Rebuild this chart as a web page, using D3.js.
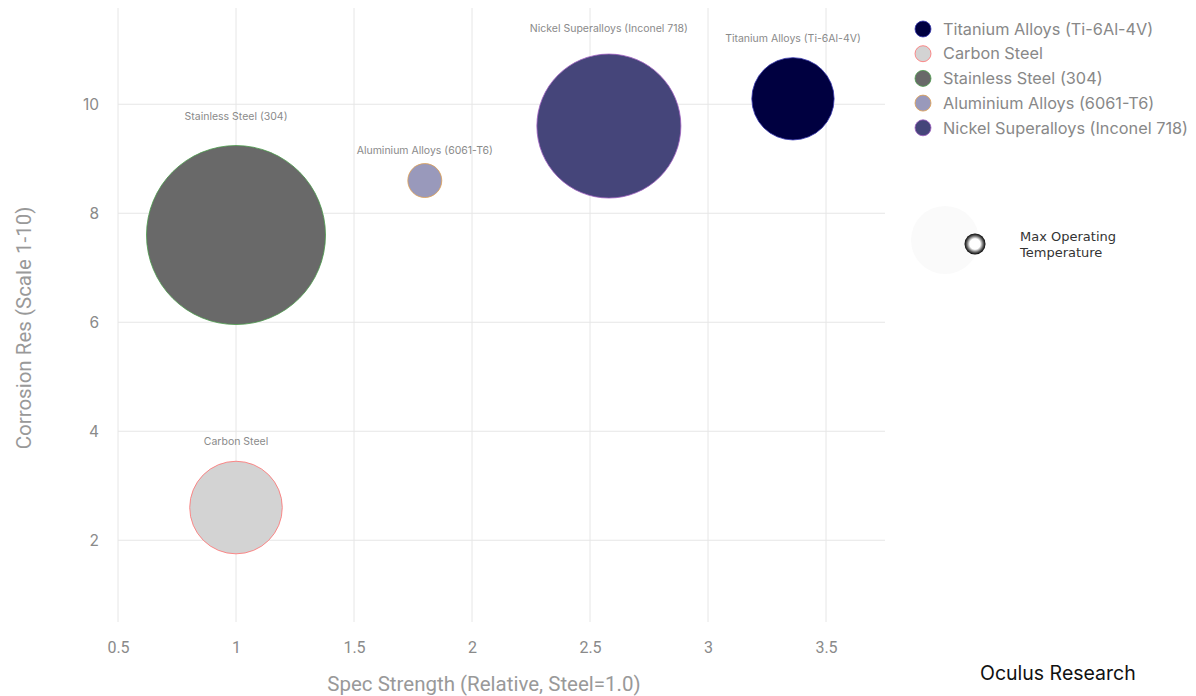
<!DOCTYPE html>
<html><head><meta charset="utf-8">
<script src="https://cdn.jsdelivr.net/npm/d3@7"></script>
<style>
html,body{margin:0;padding:0;background:#fff;}
svg{display:block;}
</style></head>
<body>
<svg id="chart" width="1196" height="696"></svg>
<script>
const materials = ["Titanium Alloys (Ti-6Al-4V)", "Carbon Steel", "Stainless Steel (304)", "Aluminium Alloys (6061-T6)", "Nickel Superalloys (Inconel 718)"];
const specStrength = [3.36, 1.0, 1.0, 1.8, 2.58];
const corrosionRes = [10.1, 2.6, 7.6, 8.6, 9.6];
const maxTemp = [400, 450, 870, 165, 700];
const fillColors = ["#000040", "#d3d3d3", "#696969", "#9999bb", "#45457a"];
const strokeColors = ["#3a3ab0", "#ff7070", "#4a9a4a", "#e0a050", "#a060c0"];
const xTicks = [0.5, 1, 1.5, 2, 2.5, 3, 3.5];
const yTicks = [2, 4, 6, 8, 10];

const svg = d3.select("#chart");
const L = 118, R = 885, T = 8, B = 622;
const x = d3.scaleLinear().domain([0.5, 0.5 + (R - L) / 236]).range([L, R]);
const y = d3.scaleLinear().domain([0.5, 0.5 + (B - T) / 54.5]).range([B, T]);
const r = d3.scaleLinear().domain([0, 870]).range([0, 89.5]);

const font = "Inter, 'Open Sans', sans-serif";

// grid
const grid = svg.append("g");
grid.selectAll("line.v").data(xTicks).join("line")
  .attr("x1", d => x(d)).attr("x2", d => x(d)).attr("y1", T).attr("y2", B)
  .attr("stroke", "#e6e6e6").attr("stroke-width", 1);
grid.selectAll("line.h").data(yTicks).join("line")
  .attr("x1", L).attr("x2", R).attr("y1", d => y(d)).attr("y2", d => y(d))
  .attr("stroke", "#e6e6e6").attr("stroke-width", 1);

// axes (tick labels only)
const xAxis = svg.append("g").attr("transform", `translate(0,${B + 17})`)
  .call(d3.axisBottom(x).tickValues(xTicks).tickSize(0).tickFormat(d => String(d)));
xAxis.select(".domain").remove();
xAxis.selectAll("text").attr("fill", "#8a8a8a").attr("font-size", 16).attr("font-family", "Roboto, sans-serif").attr("dy", "0.71em");

const yAxis = svg.append("g").attr("transform", `translate(${L - 16},0)`)
  .call(d3.axisLeft(y).tickValues(yTicks).tickSize(0).tickFormat(d => String(d)));
yAxis.select(".domain").remove();
yAxis.selectAll("text").attr("fill", "#8a8a8a").attr("font-size", 15.5).attr("font-family", font);

// axis titles
svg.append("text").attr("x", 484).attr("y", 691).attr("text-anchor", "middle")
  .attr("fill", "#999").attr("font-size", 20.5).attr("font-family", "Roboto, sans-serif")
  .text("Spec Strength (Relative, Steel=1.0)");
svg.append("text").attr("transform", `translate(31,328) rotate(-90)`).attr("text-anchor", "middle")
  .attr("fill", "#999").attr("font-size", 20.5).attr("font-family", "Roboto, sans-serif")
  .text("Corrosion Res (Scale 1-10)");

// bubbles
const data = materials.map((m, i) => ({ m, x: specStrength[i], y: corrosionRes[i], t: maxTemp[i], fill: fillColors[i], stroke: strokeColors[i] }));
const bub = svg.append("g");
bub.selectAll("circle").data(data).join("circle")
  .attr("cx", d => x(d.x)).attr("cy", d => y(d.y)).attr("r", d => r(d.t))
  .attr("fill", d => d.fill).attr("stroke", d => d.stroke).attr("stroke-width", 0.8);
bub.selectAll("text").data(data).join("text")
  .attr("x", d => x(d.x)).attr("y", d => y(d.y) - r(d.t) * 1.22 - 10)
  .attr("text-anchor", "middle").attr("dy", "0.35em")
  .attr("fill", "#8a8a8a").attr("font-size", 10.5).attr("font-family", font)
  .text(d => d.m);

// legend
const lg = svg.append("g");
const lgRows = lg.selectAll("g").data(data).join("g")
  .attr("transform", (d, i) => `translate(923,${29 + i * 24.7})`);
lgRows.append("circle").attr("r", 8).attr("fill", d => d.fill).attr("stroke", d => d.stroke).attr("stroke-width", 0.8);
lgRows.append("text").attr("x", 20).attr("dy", "0.35em").attr("fill", "#888")
  .attr("font-size", 16.3).attr("font-family", font).text(d => d.m);

// size legend
const defs = svg.append("defs");
const rg = defs.append("radialGradient").attr("id", "ringGrad");
rg.append("stop").attr("offset", "0%").attr("stop-color", "#ffffff");
rg.append("stop").attr("offset", "50%").attr("stop-color", "#ffffff");
rg.append("stop").attr("offset", "78%").attr("stop-color", "#666");
rg.append("stop").attr("offset", "100%").attr("stop-color", "#000");
svg.append("circle").attr("cx", 945).attr("cy", 240).attr("r", 34).attr("fill", "#fafafa");
svg.append("circle").attr("cx", 975).attr("cy", 244).attr("r", 10.5).attr("fill", "url(#ringGrad)");
const st = svg.append("text").attr("x", 1020).attr("y", 241).attr("fill", "#333")
  .attr("font-size", 13).attr("font-family", "'DejaVu Sans', sans-serif");
st.append("tspan").attr("x", 1020).text("Max Operating");
st.append("tspan").attr("x", 1020).attr("dy", 16).text("Temperature");

// credit
svg.append("text").attr("x", 980).attr("y", 680).attr("fill", "#111")
  .attr("font-size", 19.5).attr("font-family", font).text("Oculus Research");
</script>
</body></html>
